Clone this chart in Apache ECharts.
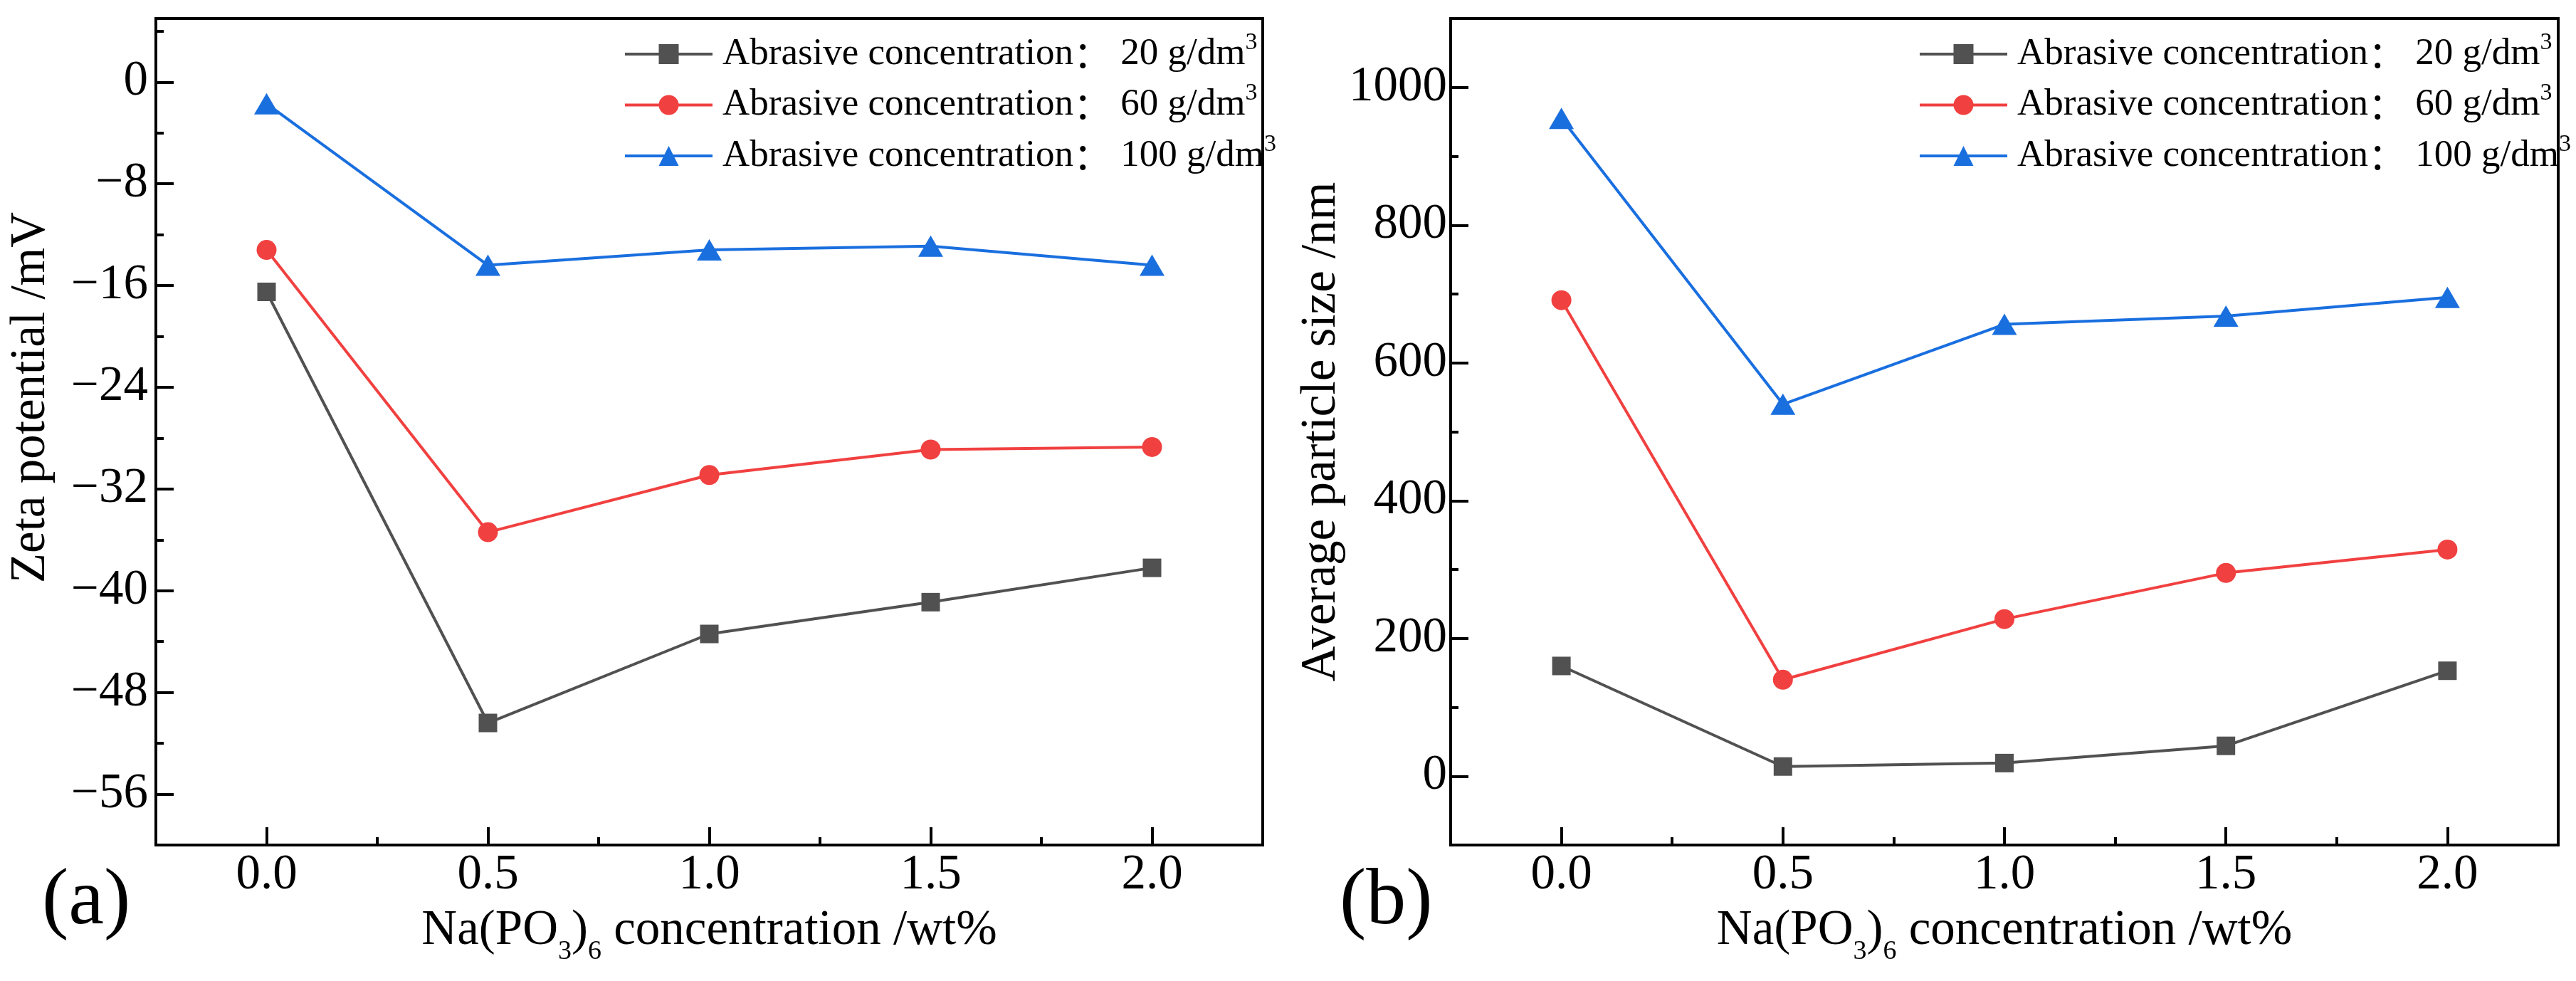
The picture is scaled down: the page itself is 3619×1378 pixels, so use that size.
<!DOCTYPE html>
<html><head><meta charset="utf-8">
<script src="https://cdn.jsdelivr.net/npm/echarts@6/dist/echarts.min.js"></script>
<style>html,body{margin:0;padding:0;background:#fff}#c{width:3619px;height:1378px}</style>
</head><body><div id="c"></div><script>
// ---- data ----
const xValues = [0, 0.5, 1.0, 1.5, 2.0];
const concentrations = ['20', '60', '100'];
const zeta20 = [-16.5, -50.4, -43.4, -40.9, -38.2];
const zeta60 = [-13.2, -35.4, -30.9, -28.9, -28.7];
const zeta100 = [-1.7, -14.4, -13.2, -12.9, -14.4];
const size20 = [160, 14, 19, 44, 153];
const size60 = [691, 140, 228, 295, 329];
const size100 = [955, 540, 656, 668, 695];
const xTicks = [0, 0.5, 1.0, 1.5, 2.0];
const xMinorTicks = [0.25, 0.75, 1.25, 1.75];
const zetaTicks = [-56, -48, -40, -32, -24, -16, -8, 0];
const zetaMinorTicks = [-52, -44, -36, -28, -20, -12, -4, 4];
const sizeTicks = [0, 200, 400, 600, 800, 1000];
const sizeMinorTicks = [100, 300, 500, 700, 900];

const FF = 'Liberation Serif';
const colors = ['#515151', '#F14040', '#1A6FDF'];
const symbols = ['rect', 'circle', 'triangle'];
const symbolSizes = [26, 28, [35, 30]];

const chart = echarts.init(document.getElementById('c'), null, {renderer: 'canvas'});

function mainX(gi) {
  return {
    type: 'value', gridIndex: gi, min: -0.25, max: 2.25, position: 'bottom',
    axisLine: {show: true, onZero: false, lineStyle: {color: '#000', width: 4}},
    axisTick: {show: true, inside: true, length: 25, customValues: xTicks, lineStyle: {color: '#000', width: 4}},
    axisLabel: {customValues: xTicks, formatter: v => Number(v).toFixed(1), fontSize: 69, fontFamily: FF, color: '#000', margin: 8},
    splitLine: {show: false},
    name: '{m|Na(PO}{s|3}{m|)}{s|6}{m| concentration /wt%}',
    nameLocation: 'middle', nameGap: 71,
    nameTextStyle: {
      fontFamily: FF, fontSize: 69, color: '#000',
      rich: {
        m: {fontSize: 69, fontFamily: FF, color: '#000', lineHeight: 100},
        s: {fontSize: 38, fontFamily: FF, color: '#000', lineHeight: 42, height: 42, verticalAlign: 'bottom'}
      }
    }
  };
}
function minorX(gi) {
  return {
    type: 'value', gridIndex: gi, min: -0.25, max: 2.25, position: 'bottom',
    axisLine: {show: false, onZero: false},
    axisTick: {show: true, inside: true, length: 11, customValues: xMinorTicks, lineStyle: {color: '#000', width: 4}},
    axisLabel: {show: false}, splitLine: {show: false}
  };
}
function mainY(gi, min, max, ticks, name, gap, pad, margin) {
  return {
    type: 'value', gridIndex: gi, min: min, max: max, position: 'left',
    axisLine: {show: true, onZero: false, lineStyle: {color: '#000', width: 4}},
    axisTick: {show: true, inside: true, length: 25, customValues: ticks, lineStyle: {color: '#000', width: 4}},
    axisLabel: {customValues: ticks, formatter: v => (v < 0 ? '\u2212' + (-v) : String(v)), fontSize: 69, fontFamily: FF, color: '#000', margin: margin},
    splitLine: {show: false},
    name: name, nameLocation: 'middle', nameGap: gap,
    nameTextStyle: {fontSize: 69, fontFamily: FF, color: '#000', padding: pad}
  };
}
function minorY(gi, min, max, ticks) {
  return {
    type: 'value', gridIndex: gi, min: min, max: max, position: 'left',
    axisLine: {show: false, onZero: false},
    axisTick: {show: true, inside: true, length: 11, customValues: ticks, lineStyle: {color: '#000', width: 4}},
    axisLabel: {show: false}, splitLine: {show: false}
  };
}
function legendFor(prefix, left) {
  return {
    orient: 'vertical', left: left, top: 43, padding: 0,
    itemWidth: 123, itemHeight: 35, itemGap: 12, selectedMode: false,
    data: concentrations.map(c => ({name: prefix + c, lineStyle: {width: 4}})),
    lineStyle: {width: 4},
    formatter: name => '{t0|Abrasive concentration}{c|\uFF1A}{t| ' + name.slice(1) + ' g/dm}{p|3}',
    textStyle: {
      fontFamily: FF, fontSize: 53, color: '#000',
      rich: {
        t0: {fontSize: 53, fontFamily: FF, color: '#000', lineHeight: 40, padding: [0, 0, 0, 9]},
        t: {fontSize: 53, fontFamily: FF, color: '#000', lineHeight: 40},
        c: {fontSize: 53, fontFamily: 'Noto Sans CJK SC', color: '#000', lineHeight: 40},
        p: {fontSize: 34, fontFamily: FF, color: '#000', lineHeight: 8, height: 8, verticalAlign: 'top'}
      }
    }
  };
}
function mkSeries(prefix, values, idx, axisIdx) {
  return {
    name: prefix + concentrations[idx], type: 'line',
    xAxisIndex: axisIdx, yAxisIndex: axisIdx,
    data: xValues.map((x, i) => [x, values[i]]),
    symbol: symbols[idx], symbolSize: symbolSizes[idx],
    lineStyle: {color: colors[idx], width: 4},
    itemStyle: {color: colors[idx]},
    z: 3 + idx
  };
}

const option = {
  animation: false,
  backgroundColor: '#fff',
  grid: [
    {left: 219, top: 26, width: 1555, height: 1161, show: true, borderColor: '#000', borderWidth: 4, backgroundColor: 'transparent'},
    {left: 2038, top: 26, width: 1556, height: 1161, show: true, borderColor: '#000', borderWidth: 4, backgroundColor: 'transparent'}
  ],
  xAxis: [mainX(0), minorX(0), mainX(1), minorX(1)],
  yAxis: [
    mainY(0, -60, 5, zetaTicks, 'Zeta potential /mV', 141, [0, 0, 0, 96], 11),
    minorY(0, -60, 5, zetaMinorTicks),
    mainY(1, -100, 1100, sizeTicks, 'Average particle size /nm', 146, 0, 5),
    minorY(1, -100, 1100, sizeMinorTicks)
  ],
  legend: [legendFor('a', 876), legendFor('b', 2695)],
  graphic: [
    {type: 'text', left: 59, top: 1212, style: {text: '(a)', font: "112px 'Liberation Serif'", fill: '#000'}},
    {type: 'text', left: 1882, top: 1212, style: {text: '(b)', font: "112px 'Liberation Serif'", fill: '#000'}}
  ],
  series: [
    mkSeries('a', zeta20, 0, 0), mkSeries('a', zeta60, 1, 0), mkSeries('a', zeta100, 2, 0),
    mkSeries('b', size20, 0, 2), mkSeries('b', size60, 1, 2), mkSeries('b', size100, 2, 2)
  ]
};
chart.setOption(option);
</script></body></html>
